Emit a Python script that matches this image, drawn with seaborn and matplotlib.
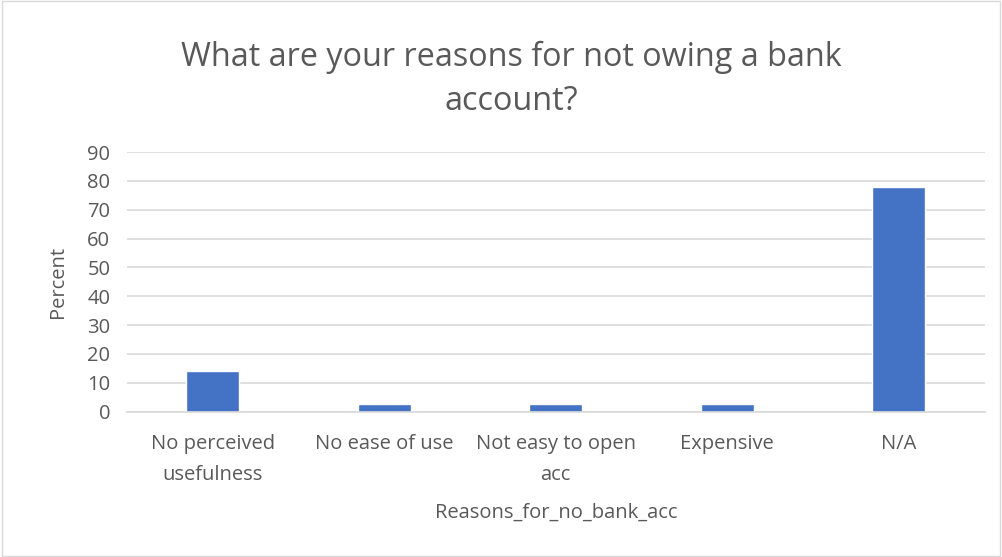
import matplotlib
matplotlib.use("Agg")
import matplotlib.pyplot as plt
import seaborn as sns
import pandas as pd
from matplotlib.patches import Rectangle

categories = ["No perceived\nusefulness", "No ease of use", "Not easy to open\nacc", "Expensive", "N/A"]
percent = [14.0, 2.8, 2.8, 2.8, 77.8]
yticks = [0, 10, 20, 30, 40, 50, 60, 70, 80, 90]

sns.set_theme(style="white")
plt.rcParams['font.family'] = ['Open Sans', 'DejaVu Sans']

df = pd.DataFrame({"cat": categories, "pct": percent})

fig = plt.figure(figsize=(10.02, 5.57), dpi=100)
ax = fig.add_axes([0.1267, 0.261, 0.856, 0.466])
sns.barplot(data=df, x="cat", y="pct", color="#4472C4", width=0.31, saturation=1, ax=ax)

ax.set_ylim(0, 90)
ax.set_yticks(yticks)
ax.set_xlim(-0.5, len(categories) - 0.5)
ax.grid(axis="y", color="#D9D9D9", linewidth=1.2)
ax.set_axisbelow(True)
for s in ["left", "right", "top"]:
    ax.spines[s].set_visible(False)
ax.spines["bottom"].set_color("#D9D9D9")
ax.spines["bottom"].set_linewidth(1.2)
ax.tick_params(axis="both", length=0, colors="#595959", labelsize=14.5)
ax.tick_params(axis="y", pad=12)
ax.tick_params(axis="x", pad=16)
for lbl in ax.get_xticklabels():
    lbl.set_linespacing(1.75)
ax.set_xlabel("Reasons_for_no_bank_acc", fontsize=14.5, color="#595959", labelpad=13)
ax.set_ylabel("Percent", fontsize=14.5, color="#595959", labelpad=14)

fig.text(0.51, 0.858, "What are your reasons for not owing a bank\naccount?", ha="center", va="center",
         fontsize=23.3, color="#595959", linespacing=1.45)

fig.patches.append(Rectangle((0.002, 0.002), 0.996, 0.996, transform=fig.transFigure,
                             fill=False, edgecolor="#D9D9D9", linewidth=1))

fig.savefig("out.png", dpi=100)
